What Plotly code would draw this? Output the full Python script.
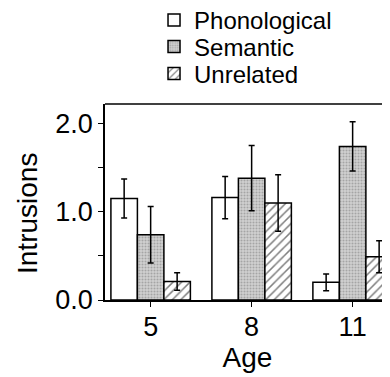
import plotly.graph_objects as go

ages = ["5", "8", "11"]
series = ["Phonological", "Semantic", "Unrelated"]
phon = [1.15, 1.16, 0.20]
phon_err = [0.22, 0.24, 0.095]
sem = [0.74, 1.38, 1.74]
sem_err = [0.32, 0.37, 0.28]
unrel = [0.21, 1.10, 0.49]
unrel_err = [0.10, 0.32, 0.18]
ytick_vals = [0, 1, 2]
ytick_text = ["0.0", "1.0", "2.0"]
y_title = "Intrusions"
x_title = "Age"

FONT = "Arial, Liberation Sans, sans-serif"

styles = [
    dict(color="white", pattern=None),
    dict(color="#d2d2d2", pattern=dict(shape=".", fillmode="overlay", fgcolor="#777777", size=3, solidity=0.4)),
    dict(color="white", pattern=dict(shape="/", fillmode="overlay", fgcolor="black", size=6, solidity=0.25)),
]
vals = [phon, sem, unrel]
errs = [phon_err, sem_err, unrel_err]
legends = ["legend", "legend2", "legend3"]

fig = go.Figure()
for i, name in enumerate(series):
    marker = dict(color=styles[i]["color"], line=dict(color="black", width=1.5))
    if styles[i]["pattern"]:
        marker["pattern"] = styles[i]["pattern"]
    fig.add_trace(go.Bar(
        x=ages, y=vals[i], name=name, marker=marker,
        error_y=dict(type="data", array=errs[i], color="black", thickness=1.5, width=3),
        legend=legends[i],
    ))

# page body has an 8px margin, so the figure is drawn at (8, 8)
PLOT_H = 196
PLOT_W = 285
leg_common = dict(font=dict(family=FONT, size=24, color="black"), bgcolor="rgba(0,0,0,0)",
                  xanchor="left", yanchor="middle", x=0.172, itemwidth=30)
fig.update_layout(
    width=382, height=369,
    margin=dict(l=97, r=0, t=96, b=77, autoexpand=False),
    paper_bgcolor="white", plot_bgcolor="white",
    barmode="group", bargap=0.213, bargroupgap=0,
    font=dict(family=FONT, color="black"),
    showlegend=True,
    legend=dict(y=(292 - 12.5) / PLOT_H, **leg_common),
    legend2=dict(y=(292 - 39) / PLOT_H, **leg_common),
    legend3=dict(y=(292 - 66) / PLOT_H, **leg_common),
    xaxis=dict(
        type="category", range=[-0.452, 2.37],
        showline=True, linecolor="black", linewidth=1.5, mirror=False,
        ticks="outside", ticklen=5, tickcolor="black", tickwidth=1.2,
        tickfont=dict(family=FONT, size=27, color="black"), ticklabelstandoff=-3,
        title=dict(text=x_title, font=dict(family=FONT, size=28, color="black"), standoff=2),
        showgrid=False, zeroline=False, automargin=False,
    ),
    yaxis=dict(
        range=[0, 2.22],
        tickvals=ytick_vals, ticktext=ytick_text,
        showline=True, linecolor="black", linewidth=1.5,
        ticks="outside", ticklen=5, tickcolor="black", tickwidth=1.2,
        minor=dict(tickvals=[0.5, 1.5], ticks="outside", ticklen=5, tickcolor="black", tickwidth=1.2),
        tickfont=dict(family=FONT, size=27, color="black"),
        showgrid=False, zeroline=False, automargin=False,
    ),
    annotations=[dict(
        text=y_title, textangle=-90, showarrow=False,
        xref="paper", yref="paper",
        x=(19 - 97) / PLOT_W, y=(292 - 206) / PLOT_H,
        xanchor="center", yanchor="middle",
        font=dict(family=FONT, size=28, color="black"),
    )],
    shapes=[dict(type="line", xref="paper", yref="paper", x0=0, x1=1, y0=1, y1=1,
                 line=dict(color="black", width=1.5))],
)

fig.write_html("out.html")
